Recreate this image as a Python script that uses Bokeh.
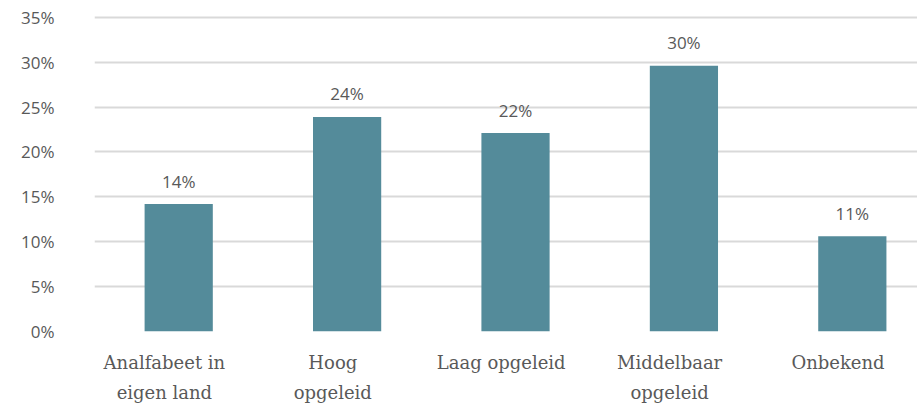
from bokeh.plotting import figure
from bokeh.models import FixedTicker, Range1d, ColumnDataSource
from bokeh.core.properties import value
from bokeh.embed import file_html
from bokeh.resources import INLINE

categories = ["Analfabeet in\neigen land", "Hoog\nopgeleid", "Laag opgeleid", "Middelbaar\nopgeleid", "Onbekend"]
values = [14.2, 23.9, 22.1, 29.6, 10.6]
labels = ["14%", "24%", "22%", "30%", "11%"]
y_ticks = [0, 5, 10, 15, 20, 25, 30, 35]
y_tick_labels = ["0%", "5%", "10%", "15%", "20%", "25%", "30%", "35%"]

xs = list(range(len(categories)))
src = ColumnDataSource(dict(x=xs, top=values, label=labels))

p = figure(width=917, height=406, output_backend="svg", toolbar_location=None,
           x_range=Range1d(-0.5, 4.387), y_range=Range1d(0, 35.2),
           min_border_left=94, min_border_right=0, min_border_top=15, min_border_bottom=75)
p.outline_line_color = None
p.background_fill_color = "white"
p.border_fill_color = "white"

p.vbar(x="x", top="top", width=0.405, bottom=0, source=src, color="#548b9a", line_color=None)
p.text(x="x", y="top", text="label", source=src, text_align="center", text_baseline="alphabetic",
       y_offset=-23, text_font=value("Open Sans"), text_font_size="17px", text_color="#595959")

p.xgrid.visible = False
p.ygrid.ticker = FixedTicker(ticks=y_ticks)
p.ygrid.grid_line_color = "#d9d9d9"
p.ygrid.grid_line_width = 2

p.yaxis.ticker = FixedTicker(ticks=y_ticks)
p.yaxis.major_label_overrides = {t: l for t, l in zip(y_ticks, y_tick_labels)}
p.yaxis.axis_line_color = None
p.yaxis.major_tick_line_color = None
p.yaxis.minor_tick_line_color = None
p.yaxis.major_label_standoff = 34
p.yaxis.major_label_text_font = "Open Sans"
p.yaxis.major_label_text_font_size = "17px"
p.yaxis.major_label_text_color = "#595959"

shift = -0.085
label_pos = [x + shift for x in xs]
p.xaxis.ticker = FixedTicker(ticks=label_pos)
p.xaxis.major_label_overrides = {x: c for x, c in zip(label_pos, categories)}
p.xaxis.axis_line_color = None
p.xaxis.major_tick_line_color = None
p.xaxis.minor_tick_line_color = None
p.xaxis.major_label_standoff = 14
p.xaxis.major_label_text_font = "DejaVu Serif"
p.xaxis.major_label_text_font_size = "18px"
p.xaxis.major_label_text_color = "#595959"
p.xaxis.major_label_text_line_height = 1.45

open("out.html", "w").write(file_html(p, INLINE))
